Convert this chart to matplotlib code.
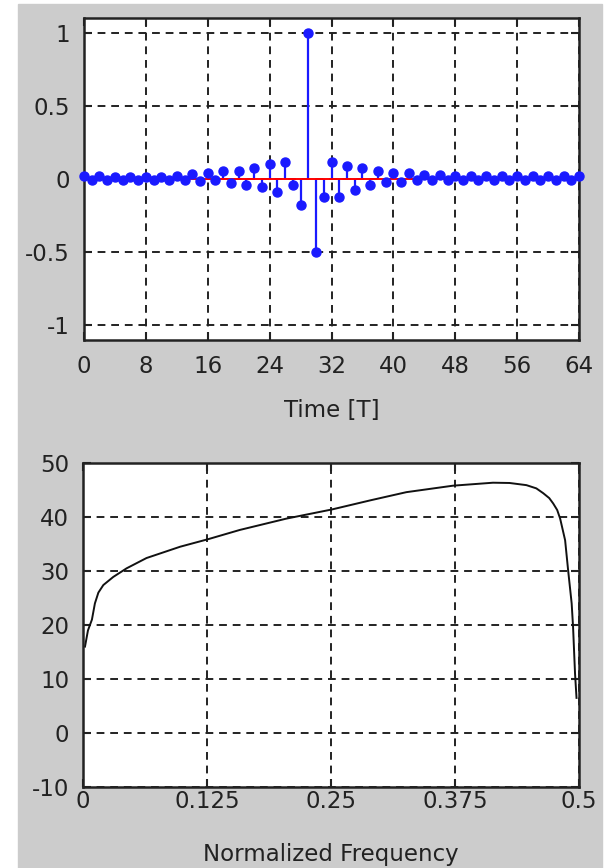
import matplotlib
matplotlib.use("Agg")
import matplotlib.pyplot as plt
import matplotlib.patches as patches

# impulse response (top)
n = list(range(65))
h = [0.02, -0.005, 0.02, -0.01, 0.015, -0.005, 0.015, -0.01, 0.015, -0.01,
     0.015, -0.01, 0.02, -0.01, 0.035, -0.015, 0.04, -0.01, 0.057, -0.027,
     0.057, -0.04, 0.073, -0.057, 0.10, -0.09, 0.118, -0.04, -0.18, 1.0,
     -0.5, -0.12, 0.118, -0.12, 0.086, -0.073, 0.073, -0.04, 0.057, -0.023,
     0.04, -0.023, 0.04, -0.01, 0.03, -0.01, 0.025, -0.005, 0.02, -0.005,
     0.02, -0.005, 0.02, -0.005, 0.02, -0.005, 0.02, -0.005, 0.02, -0.005,
     0.02, -0.005, 0.02, -0.005, 0.02]
time_ticks = [0, 8, 16, 24, 32, 40, 48, 56, 64]
amp_ticks = [-1, -0.5, 0, 0.5, 1]
amp_labels = ["-1", "-0.5", "0", "0.5", "1"]

# magnitude response (bottom)
freq = [0.002, 0.005, 0.009, 0.012, 0.0155, 0.0205, 0.0305, 0.044, 0.064,
        0.098, 0.1263, 0.158, 0.205, 0.251, 0.29, 0.326, 0.373, 0.4133,
        0.43, 0.447, 0.457, 0.464, 0.47, 0.474, 0.478, 0.481, 0.486, 0.489,
        0.4926, 0.494, 0.496, 0.4975]
mag = [16.0, 19.0, 21.0, 24.0, 26.0, 27.4, 28.9, 30.5, 32.4,
       34.5, 35.9, 37.6, 39.7, 41.4, 43.1, 44.6, 45.8, 46.35,
       46.3, 45.9, 45.3, 44.4, 43.5, 42.5, 41.3, 39.7, 35.7, 30.2,
       24.0, 19.7, 11.0, 6.5]
freq_ticks = [0, 0.125, 0.25, 0.375, 0.5]
freq_labels = ["0", "0.125", "0.25", "0.375", "0.5"]
mag_ticks = [-10, 0, 10, 20, 30, 40, 50]

plt.rcParams['font.family'] = ['DejaVu Sans']
plt.rcParams['axes.unicode_minus'] = False
fig = plt.figure(figsize=(6.1, 8.68), dpi=100)
fig.patch.set_facecolor('white')
fig.patches.append(patches.Rectangle((18 / 610, 0), 584 / 610, 864 / 868,
                                     transform=fig.transFigure,
                                     color='#cccccc', zorder=-10))

FS = 16.5
INK = '#222222'


def style(ax):
    ax.set_facecolor('white')
    for s in ax.spines.values():
        s.set_linewidth(1.8)
        s.set_color(INK)
    ax.tick_params(direction='in', length=6, width=1.5, top=True, right=True,
                   labelsize=FS, colors=INK)
    ax.tick_params(axis='y', pad=10)
    ax.grid(True, color=INK, linestyle=(0, (4, 3)), linewidth=1.4)
    ax.set_axisbelow(True)


ax1 = fig.add_axes([84 / 610, 1 - 340 / 868, 495 / 610, 322 / 868])
style(ax1)
ml, sl, bl = ax1.stem(n, h, linefmt='-', markerfmt='o', basefmt='-')
plt.setp(sl, color='#1a1aff', linewidth=1.6)
plt.setp(ml, color='#1a1aff', markersize=6.5, clip_on=False, zorder=5)
plt.setp(bl, color='red', linewidth=1.4)
ax1.set_xlim(0, 64)
ax1.set_ylim(-1.1, 1.1)
ax1.set_xticks(time_ticks)
ax1.set_yticks(amp_ticks)
ax1.set_yticklabels(amp_labels)
ax1.tick_params(axis='x', pad=11)
ax1.set_xlabel("Time [T]", fontsize=FS, color=INK, labelpad=15)

ax2 = fig.add_axes([83 / 610, 1 - 787 / 868, 496 / 610, 324 / 868])
style(ax2)
ax2.plot(freq, mag, color='#111111', linewidth=1.4)
ax2.set_xlim(0, 0.5)
ax2.set_ylim(-10, 50)
ax2.set_xticks(freq_ticks)
ax2.set_xticklabels(freq_labels)
ax2.set_yticks(mag_ticks)
ax2.tick_params(axis='x', pad=2)
ax2.set_xlabel("Normalized Frequency", fontsize=FS, color=INK, labelpad=22)

fig.savefig("out.png", dpi=100, facecolor=fig.get_facecolor())
